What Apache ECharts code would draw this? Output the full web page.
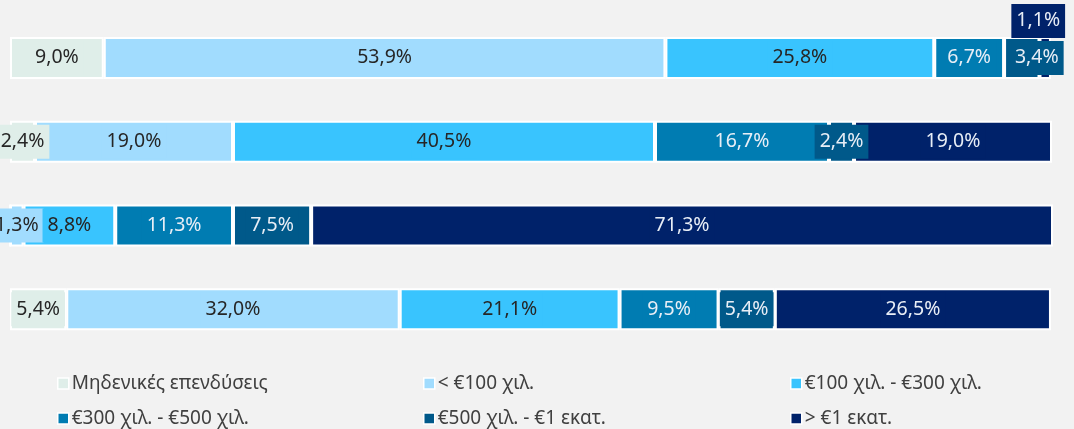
<!DOCTYPE html>
<html>
<head>
<meta charset="utf-8">
<script src="https://cdn.jsdelivr.net/npm/echarts@6/dist/echarts.min.js"></script>
<style>
    html, body { margin: 0; padding: 0; background: #f2f2f2; }
    #chart { width: 1074px; height: 429px; }
</style>
</head>
<body>
<div id="chart"></div>
<script>
// κατηγορίες (γραμμές του διαγράμματος, χωρίς ετικέτες στο πρωτότυπο)
var categories = ['1', '2', '3', '4'];

var seriesNames = ['Μηδενικές επενδύσεις', '< €100 χιλ.', '€100 χιλ. - €300 χιλ.',
    '€300 χιλ. - €500 χιλ.', '€500 χιλ. - €1 εκατ.', '> €1 εκατ.'];

// ποσοστά ανά κατηγορία (%)
var zeroInv   = [9.0, 2.4, 0, 5.4];
var below100  = [53.9, 19.0, 1.3, 32.0];
var r100to300 = [25.8, 40.5, 8.8, 21.1];
var r300to500 = [6.7, 16.7, 11.3, 9.5];
var r500to1m  = [3.4, 2.4, 7.5, 5.4];
var above1m   = [1.1, 19.0, 71.3, 26.5];

var colors = ['#dfeee9', '#a1dcfe', '#39c4fe', '#007cb2', '#00598a', '#00226a'];
var labelColors = ['#262626', '#262626', '#262626', '#e8eef6', '#e8eef6', '#e8eef6'];

var allData = [zeroInv, below100, r100to300, r300to500, r500to1m, above1m];

var myChart = echarts.init(document.getElementById('chart'));

var font = 'Noto Sans';

// μετακινημένες ετικέτες (όπως στο πρωτότυπο)
var labelShift = {
    '4-0': [15, 0],
    '5-0': [-7, -37]
};

var series = allData.map(function (arr, i) {
    return {
        name: seriesNames[i],
        type: 'bar',
        stack: 'total',
        barWidth: 42,
        itemStyle: {
            color: colors[i],
            borderColor: '#ffffff',
            borderWidth: 2
        },
        label: {
            show: true,
            position: 'inside',
            fontFamily: font,
            fontSize: 19.5,
            color: labelColors[i],
            backgroundColor: colors[i],
            padding: [8, 5, 6, 5],
            formatter: function (p) {
                if (!p.value) return '';
                return p.value.toFixed(1).replace('.', ',') + '%';
            }
        },
        data: arr.map(function (v, j) {
            var shift = labelShift[i + '-' + j];
            if (shift) {
                return { value: v, label: { offset: shift } };
            }
            return v;
        })
    };
});

// legend: 3 στήλες x 2 γραμμές
var legendPos = [
    [52, 369], [418, 369], [785, 369],
    [52, 404], [418, 404], [785, 404]
];
var legends = seriesNames.map(function (name, i) {
    return {
        data: [name],
        left: legendPos[i][0],
        top: legendPos[i][1],
        icon: 'rect',
        itemWidth: 11,
        itemHeight: 11,
        itemGap: 6,
        itemStyle: { borderColor: '#ffffff', borderWidth: 1.5 },
        textStyle: { fontFamily: font, fontSize: 19, color: '#404040', padding: [0, 0, 0, -2] },
        selectedMode: false
    };
});

var option = {
    backgroundColor: '#f2f2f2',
    animation: false,
    grid: {
        left: 10,
        right: 22,
        top: 16,
        bottom: 78
    },
    legend: legends,
    xAxis: {
        type: 'value',
        min: 0,
        max: 100,
        show: false
    },
    yAxis: {
        type: 'category',
        inverse: true,
        data: categories,
        show: false
    },
    series: series
};

myChart.setOption(option);
</script>
</body>
</html>
